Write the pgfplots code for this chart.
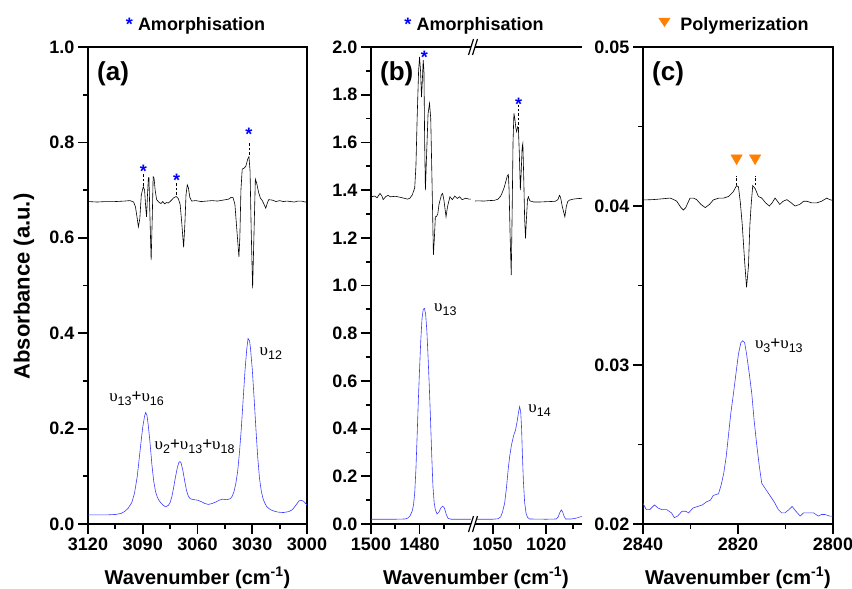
\documentclass[border=0pt]{standalone}
\usepackage{fontspec}
\setmainfont{Liberation Sans}
\newfontfamily\grk{Liberation Serif}
\usepackage{pgfplots}
\pgfplotsset{compat=1.18}
\definecolor{bl}{RGB}{60,60,255}
\definecolor{astc}{RGB}{0,0,255}
\definecolor{org}{RGB}{255,127,0}
\newcommand{\up}[1]{{\grk υ}\raisebox{-4pt}{\fontsize{12.5}{13}\selectfont #1}}
\pgfplotsset{
  myax/.style={
    scale only axis, height=477pt,
    tick align=outside, xtick pos=bottom, ytick pos=left,
    major tick length=10pt, minor tick length=5pt,
    major tick style={black, line width=1.8pt},
    minor tick style={black, line width=1.8pt},
    axis line style={black, line width=2.2pt},
    ticklabel style={font=\bfseries\fontsize{18}{20}\selectfont},
    /pgf/number format/assume math mode=true,
    /pgf/number format/1000 sep={},
    scaled ticks=false,
    x dir=reverse,
  },
  yfmt/.style={yticklabel style={/pgf/number format/fixed, /pgf/number format/fixed zerofill, /pgf/number format/precision=#1}},
}
\tikzset{
  blk/.style={black, line width=0.6pt},
  blu/.style={bl, line width=0.6pt},
  astn/.style={anchor=base, yshift=-10.5pt, text=astc, inner sep=0pt, font=\bfseries\fontsize{18}{20}\selectfont},
  vlab/.style={font=\fontsize{17}{19}\selectfont, inner sep=0pt},
  dsh/.style={black, line width=0.8pt, dash pattern=on 2.5pt off 2pt},
  plab/.style={anchor=west, inner sep=0pt, font=\bfseries\fontsize{26}{28}\selectfont},
}
\begin{document}
\begin{tikzpicture}
\useasboundingbox (0pt,0pt) rectangle (852pt,-589pt);

% ---------------- panel (a)
\begin{axis}[myax, at={(88pt,-524pt)}, anchor=south west, width=219pt,
  xmin=3000, xmax=3120, ymin=0, ymax=1.0,
  xtick={3000,3030,3060,3090,3120}, minor xtick={3015,3045,3075,3105},
  ytick={0,0.2,0.4,0.6,0.8,1.0}, minor ytick={0.1,0.3,0.5,0.7,0.9},
  yfmt=1,
]
\addplot[blu] coordinates {
(3120,0.019) (3115,0.019) (3110,0.019) (3105,0.020) (3102,0.022) (3100,0.026)
(3098,0.033) (3096,0.045) (3094.5,0.065) (3093,0.100) (3092,0.135) (3091,0.170)
(3090,0.203) (3089,0.226) (3088.4,0.234) (3087.7,0.228) (3087,0.208) (3086,0.170)
(3085,0.125) (3084,0.090) (3083,0.068) (3082,0.056) (3081,0.049) (3080,0.044)
(3079,0.040) (3077.5,0.036) (3076,0.039) (3075,0.045) (3074,0.058) (3073,0.078)
(3072,0.100) (3071,0.119) (3070.2,0.129) (3069.6,0.131) (3069,0.128) (3068,0.112)
(3067,0.090) (3066,0.070) (3065,0.058) (3064,0.053) (3062,0.051) (3060,0.050)
(3058,0.047) (3056,0.043) (3054,0.041) (3052,0.043) (3050,0.046) (3048,0.050)
(3046.5,0.052) (3044,0.051) (3042,0.053) (3041,0.058) (3040,0.068) (3039,0.085)
(3038,0.110) (3037,0.150) (3036,0.200) (3035,0.260) (3034,0.320) (3033,0.367)
(3032.3,0.389) (3031.5,0.384) (3031,0.370) (3030,0.325) (3029,0.265) (3028,0.200)
(3027,0.140) (3026,0.095) (3025,0.068) (3024,0.052) (3023,0.043) (3022,0.036)
(3020,0.030) (3018,0.027) (3016,0.025) (3013,0.024) (3010,0.026) (3008,0.030)
(3006,0.040) (3004.5,0.048) (3003.5,0.050) (3002,0.048) (3001,0.044) (3000,0.040)
};
\addplot[blk] coordinates {
(3120,0.676) (3115,0.675) (3110,0.676) (3105,0.676) (3100,0.677) (3097,0.678)
(3095,0.675) (3094,0.665) (3093,0.640) (3092.4,0.623) (3091.6,0.640) (3090.8,0.690)
(3089.7,0.707) (3089,0.700) (3088.3,0.660) (3087.9,0.644) (3087.4,0.690) (3086.9,0.726)
(3086.6,0.726) (3086.1,0.650) (3085.4,0.553) (3084.8,0.640) (3084.3,0.728) (3083.8,0.725)
(3083.2,0.700) (3082.4,0.680) (3081,0.674) (3080,0.672) (3079,0.676) (3078,0.671)
(3077,0.674) (3076,0.673) (3075,0.676) (3074,0.680) (3073,0.684) (3072,0.686)
(3071.4,0.686) (3070.5,0.682) (3069.5,0.670) (3068.6,0.630) (3067.6,0.580) (3066.9,0.630)
(3066.3,0.690) (3065.6,0.711) (3065,0.705) (3064.2,0.685) (3063.2,0.677) (3061,0.678)
(3058,0.676) (3055,0.677) (3052,0.678) (3049,0.677) (3046,0.679) (3043,0.681)
(3041.5,0.685) (3040.5,0.684) (3039.5,0.670) (3038.5,0.620) (3037.3,0.560) (3036.8,0.600)
(3036.2,0.700) (3035.5,0.744) (3034.5,0.746) (3033.5,0.750) (3032.5,0.765) (3031.8,0.770)
(3031.2,0.740) (3030.6,0.620) (3029.8,0.494) (3029.1,0.600) (3028.3,0.723) (3027.6,0.715)
(3026.5,0.695) (3025.5,0.683) (3024.5,0.678) (3023.5,0.670) (3022.6,0.662) (3021.8,0.672)
(3021,0.680) (3019,0.679) (3017,0.676) (3015,0.678) (3013,0.676) (3011,0.677)
(3009,0.676) (3007,0.675) (3005,0.677) (3003,0.677) (3001,0.675) (3000,0.676)
};
\draw[dsh] (axis cs:3089.7,0.709) -- (axis cs:3089.7,0.736);
\draw[dsh] (axis cs:3071.4,0.690) -- (axis cs:3071.4,0.718);
\draw[dsh] (axis cs:3031.8,0.774) -- (axis cs:3031.8,0.801);
\node[astn] at (axis cs:3089.7,0.748) {*};
\node[astn] at (axis cs:3071.4,0.730) {*};
\node[astn] at (axis cs:3031.8,0.826) {*};
\node[vlab] at (axis cs:3093.4,0.262) {\up{13}+\up{16}};
\node[vlab] at (axis cs:3061.6,0.163) {\up{2}+\up{13}+\up{18}};
\node[vlab] at (axis cs:3019.8,0.357) {\up{12}};
\node[plab] at (axis description cs:0,1) [xshift=9pt, yshift=-27pt] {(a)};
\end{axis}

% ---------------- panel (b), left part
\begin{axis}[myax, at={(371pt,-524pt)}, anchor=south west, width=102pt,
  axis x line*=bottom, axis y line*=right, clip=false,
  xmin=1458, xmax=1500, ymin=0, ymax=2.0,
  xtick={1480,1500}, minor xtick={1470,1490},
  ytick={0,0.2,0.4,0.6,0.8,1.0,1.2,1.4,1.6,1.8,2.0},
  minor ytick={0.1,0.3,0.5,0.7,0.9,1.1,1.3,1.5,1.7,1.9},
  yfmt=1,
]
\addplot[blu] coordinates {
(1500,0.020) (1490,0.020) (1486,0.021) (1485,0.024) (1484,0.032) (1483,0.055)
(1482.5,0.080) (1482,0.130) (1481.5,0.230) (1481,0.370) (1480.5,0.520) (1480,0.650)
(1479.5,0.770) (1479,0.860) (1478.5,0.900) (1478,0.904) (1477.5,0.880) (1477,0.810)
(1476.5,0.700) (1476,0.580) (1475.5,0.440) (1475,0.290) (1474.5,0.160) (1474,0.090)
(1473.5,0.060) (1472.8,0.042) (1472,0.050) (1471.2,0.068) (1470.5,0.075) (1469.8,0.068)
(1469,0.040) (1468.3,0.024) (1467,0.020) (1458,0.020)
};
\addplot[blk] coordinates {
(1500,1.372) (1498.5,1.375) (1497.5,1.368) (1496.3,1.386) (1495.5,1.375) (1495,1.360)
(1494,1.372) (1493,1.378) (1492,1.372) (1490,1.374) (1488,1.370) (1486,1.365)
(1485,1.362) (1484,1.366) (1483,1.380) (1482,1.410) (1481.5,1.500) (1481,1.700)
(1480.4,1.900) (1480,1.959) (1479.6,1.900) (1479.2,1.790) (1478.9,1.850) (1478.5,1.945)
(1478.2,1.900) (1477.9,1.600) (1477.6,1.400) (1477.1,1.550) (1476.5,1.720) (1475.9,1.764)
(1475.4,1.700) (1474.9,1.450) (1474.3,1.128) (1473.9,1.200) (1473.5,1.288) (1473,1.290)
(1472.5,1.300) (1472,1.340) (1471,1.380) (1470.5,1.386) (1470,1.360) (1469.1,1.288)
(1468.5,1.330) (1467.5,1.372) (1466.5,1.360) (1465.5,1.375) (1464.5,1.365) (1463.5,1.372)
(1462.5,1.360) (1461,1.366) (1459.5,1.362) (1458.5,1.362)
};
\draw[black, line width=2.2pt] (rel axis cs:0,1) -- (rel axis cs:1,1);
\node[astn] at (axis cs:1478,1.974) {*};
\node[vlab] at (axis cs:1469.4,0.901) {\up{13}};
\node[plab] at (axis cs:1500,2.0) [xshift=9pt, yshift=-27pt] {(b)};
\end{axis}

% ---------------- panel (b), right part
\begin{axis}[myax, at={(473pt,-524pt)}, anchor=south west, width=109pt,
  axis x line*=bottom, axis y line*=left, clip=false,
  xmin=1000, xmax=1061, ymin=0, ymax=2.0,
  xtick={1020,1050}, minor xtick={1005,1035},
  ytick=\empty, minor ytick=\empty,
]
\addplot[blu] coordinates {
(1061,0.020) (1050,0.020) (1047,0.022) (1045.5,0.030) (1044.5,0.050) (1043.3,0.087)
(1042.3,0.150) (1041.3,0.230) (1040.5,0.282) (1039.5,0.330) (1038.3,0.370) (1037.2,0.394)
(1036.3,0.430) (1035.5,0.470) (1034.9,0.492) (1034.3,0.470) (1033.8,0.400) (1033.4,0.300)
(1032.8,0.180) (1032.1,0.090) (1031.3,0.045) (1030.5,0.028) (1029.3,0.021) (1020,0.020)
(1014.4,0.021) (1013.3,0.030) (1012.4,0.048) (1011.6,0.059) (1010.8,0.050) (1010,0.032)
(1009.2,0.021) (1006,0.021) (1003,0.025) (1001,0.030) (1000,0.031)
};
\addplot[blk] coordinates {
(1061,1.354) (1058,1.355) (1055,1.354) (1052,1.356) (1049,1.357) (1047,1.362)
(1045.5,1.375) (1044.5,1.392) (1043.5,1.412) (1042.5,1.440) (1041.7,1.462) (1041.2,1.465)
(1040.8,1.400) (1040.2,1.200) (1039.6,1.044) (1039.1,1.300) (1038.6,1.600) (1038.1,1.722)
(1037.6,1.700) (1037,1.660) (1036.6,1.645) (1036,1.665) (1035.6,1.660) (1035.1,1.560)
(1034.5,1.400) (1034,1.480) (1033.5,1.580) (1033.1,1.596) (1032.6,1.450) (1032.1,1.280)
(1031.6,1.198) (1031.1,1.280) (1030.5,1.360) (1030,1.372) (1029.2,1.355) (1027,1.350)
(1024,1.350) (1021,1.351) (1018,1.352) (1015,1.353) (1013.5,1.360) (1012.6,1.378)
(1012,1.370) (1011,1.330) (1009.6,1.288) (1008.8,1.330) (1008,1.352) (1007,1.358)
(1005,1.362) (1003,1.364) (1001,1.365) (1000,1.366)
};
\draw[black, line width=2.2pt] (rel axis cs:0,1) -- (rel axis cs:1,1);
\draw[dsh] (axis cs:1035.5,1.655) -- (axis cs:1035.5,1.755);
\node[astn] at (axis cs:1035.5,1.778) {*};
\node[vlab] at (axis cs:1023.7,0.475) {\up{14}};
\end{axis}

% ---------------- panel (c)
\begin{axis}[myax, at={(643pt,-524pt)}, anchor=south west, width=190pt,
  xmin=2800, xmax=2840, ymin=0.02, ymax=0.05,
  xtick={2800,2820,2840}, minor xtick={2810,2830},
  ytick={0.02,0.03,0.04,0.05}, minor ytick={0.025,0.035,0.045},
  yfmt=2,
]
\addplot[blu] coordinates {
(2840,0.0213) (2839.3,0.0209) (2838.6,0.0209) (2837.6,0.0212) (2836.8,0.0210) (2836,0.0209)
(2835,0.0209) (2834,0.0207) (2833.4,0.0204) (2832.7,0.0205) (2831.8,0.0208) (2831,0.0208)
(2830.4,0.0207) (2829.5,0.0210) (2828.5,0.0211) (2827.5,0.0212) (2826.6,0.0214) (2825.8,0.0215)
(2825.2,0.0218) (2824.1,0.0219) (2823.5,0.0225) (2823,0.0232) (2822.5,0.0242) (2822,0.0256)
(2821.5,0.0270) (2821,0.0281) (2820.5,0.0293) (2819.9,0.0307) (2819.4,0.0314) (2819,0.03153)
(2818.6,0.0314) (2818.2,0.0307) (2817.6,0.0294) (2817.1,0.0282) (2816.6,0.0265) (2816.1,0.0251)
(2815.5,0.0236) (2815,0.02256) (2814.2,0.0222) (2813.3,0.0218) (2812.4,0.0214) (2811.5,0.0209)
(2810.8,0.0207) (2810.1,0.0207) (2809.3,0.0209) (2808.6,0.0211) (2807.8,0.0208) (2806.9,0.0205)
(2806.2,0.0207) (2805.5,0.0207) (2804.8,0.0207) (2804.1,0.0207) (2803.1,0.0205) (2802.4,0.0206)
(2801.7,0.0206) (2800.7,0.0205) (2800,0.0205)
};
\addplot[blk] coordinates {
(2840,0.04038) (2838,0.0404) (2836,0.04045) (2834.3,0.0405) (2833.5,0.0404) (2832.9,0.0403)
(2832,0.0399) (2831.5,0.03975) (2831,0.0399) (2830.1,0.0405) (2829.4,0.0405) (2828.7,0.0404)
(2827.8,0.0401) (2826.9,0.0399) (2826,0.0401) (2825.2,0.04038) (2824,0.0405) (2823,0.0405)
(2822,0.0406) (2821,0.0409) (2820.3,0.04128) (2819.9,0.0412) (2819.5,0.0402) (2819.1,0.0388)
(2818.6,0.0365) (2818.2,0.03489) (2817.8,0.0362) (2817.5,0.0388) (2817.2,0.0402) (2816.9,0.04128)
(2816.4,0.0411) (2815.7,0.0406) (2815,0.0405) (2814.2,0.0402) (2813.4,0.0400) (2812.8,0.0402)
(2812.2,0.0405) (2811.7,0.0403) (2811.2,0.0401) (2810.5,0.0403) (2809.7,0.0404) (2808.8,0.0402)
(2808,0.0400) (2807,0.0401) (2806.2,0.0403) (2805.5,0.0403) (2804.5,0.0402) (2803.4,0.0402)
(2802.4,0.0403) (2801.3,0.0405) (2800.7,0.0404) (2800,0.04035)
};
\draw[dsh] (axis cs:2820.3,0.0413) -- (axis cs:2820.3,0.0419);
\draw[dsh] (axis cs:2816.4,0.0413) -- (axis cs:2816.4,0.0419);
\addplot[only marks, mark=triangle*, mark size=6.5pt,
  mark options={rotate=180, fill=org, draw=org}] coordinates {(2820.3,0.04301) (2816.4,0.04301)};
\node[vlab] at (axis cs:2811.4,0.0312) {\up{3}+\up{13}};
\node[plab] at (axis description cs:0,1) [xshift=9pt, yshift=-27pt] {(c)};
\end{axis}

% remove the inner vertical spine at the axis break
\draw[white, line width=3.6pt] (473pt,-44pt) -- (473pt,-527pt);
% break marks for panel (b)
\foreach \yy in {-47,-524}{
  \fill[white] (468.5pt,\yy pt-8pt) -- (473.5pt,\yy pt+8pt) -- (477.5pt,\yy pt+8pt) -- (472.5pt,\yy pt-8pt) -- cycle;
  \draw[black, line width=1.2pt] (468.5pt,\yy pt-8pt) -- (473.5pt,\yy pt+8pt);
  \draw[black, line width=1.2pt] (472.5pt,\yy pt-8pt) -- (477.5pt,\yy pt+8pt);
}

% titles and labels
\node[anchor=base, font=\bfseries\fontsize{18}{20}\selectfont] at (195.5pt,-30.5pt) {{\color{astc}*}\ Amorphisation};
\node[anchor=base, font=\bfseries\fontsize{18}{20}\selectfont] at (474pt,-30.5pt) {{\color{astc}*}\ Amorphisation};
\node[anchor=base, font=\bfseries\fontsize{18}{20}\selectfont] at (733.5pt,-30.5pt)
  {\tikz[baseline=0pt]\fill[org] (0pt,12.5pt) -- (12pt,12.5pt) -- (6pt,3.5pt) -- cycle;\ \ Polymerization};
\node[anchor=base, font=\bfseries\fontsize{20}{22}\selectfont] at (197.5pt,-584pt) {Wavenumber (cm\textsuperscript{-1})};
\node[anchor=base, font=\bfseries\fontsize{20}{22}\selectfont] at (476pt,-584pt) {Wavenumber (cm\textsuperscript{-1})};
\node[anchor=base, font=\bfseries\fontsize{20}{22}\selectfont] at (738pt,-584pt) {Wavenumber (cm\textsuperscript{-1})};
\node[rotate=90, font=\bfseries\fontsize{22}{24}\selectfont] at (24pt,-286.5pt) {Absorbance (a.u.)};
\end{tikzpicture}
\end{document}
